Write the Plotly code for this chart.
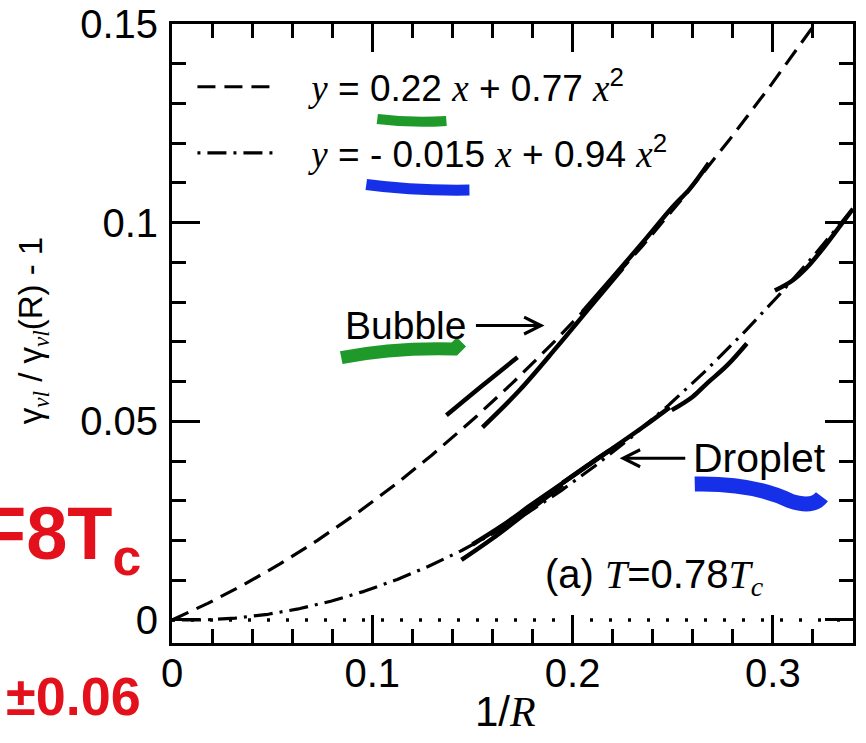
import numpy as np
import plotly.graph_objects as go

# Quadratic fits for the reduced surface tension
bubble_fit = (0.22, 0.77)      # y = a x + b x^2
droplet_fit = (-0.015, 0.94)

x_max = 0.34
y_min, y_max = -0.0058, 0.15

# Simulation data, bubbles (several overlapping runs)
bubble_run1_x = [0.137, 0.155, 0.1725]
bubble_run1_y = [0.0515, 0.0590, 0.0661]
bubble_run2_x = [0.155, 0.1735, 0.192, 0.21, 0.225]
bubble_run2_y = [0.0485, 0.0578, 0.0686, 0.0795, 0.0885]
bubble_run3_x = [0.205, 0.22, 0.235, 0.25, 0.2585, 0.268]
bubble_run3_y = [0.0775, 0.0862, 0.0950, 0.1040, 0.1085, 0.1150]

# Simulation data, droplets
droplet_run1_x = [0.1445, 0.16, 0.1785, 0.195]
droplet_run1_y = [0.0151, 0.0205, 0.0276, 0.0340]
droplet_run2_x = [0.150, 0.165, 0.18, 0.20, 0.2185]
droplet_run2_y = [0.0190, 0.0238, 0.0292, 0.0362, 0.0427]
droplet_run3_x = [0.195, 0.21, 0.2185, 0.235, 0.2485]
droplet_run3_y = [0.0345, 0.0398, 0.0427, 0.0485, 0.0535]
droplet_run4_x = [0.2495, 0.26, 0.267, 0.277, 0.287]
droplet_run4_y = [0.0528, 0.0562, 0.0595, 0.0640, 0.0696]
droplet_run5_x = [0.301, 0.31, 0.317, 0.325, 0.333, 0.34]
droplet_run5_y = [0.0829, 0.0855, 0.0887, 0.0935, 0.0988, 0.1035]

x_ticks = [0, 0.1, 0.2, 0.3]
x_tick_text = ["0", "0.1", "0.2", "0.3"]
y_ticks = [0, 0.05, 0.1, 0.15]
y_tick_text = ["0", "0.05", "0.1", "0.15"]

SANS = "Liberation Sans"
SERIF = "Liberation Serif"


def it(s):
    return f"<span style='font-family:{SERIF}'><i>{s}</i></span>"


fig = go.Figure()

gap = "&nbsp;&nbsp;&nbsp;"
xs = np.linspace(0, x_max, 400)
a, b = bubble_fit
fig.add_trace(go.Scatter(
    x=xs, y=a * xs + b * xs ** 2, mode="lines",
    line=dict(color="black", width=3.2, dash="18px,9px"),
    name=f"{gap}{it('y')} = 0.22 {it('x')} + 0.77 {it('x')}<sup>2</sup>",
    legendgroup="g1",
))
a, b = droplet_fit
fig.add_trace(go.Scatter(
    x=xs, y=a * xs + b * xs ** 2, mode="lines",
    line=dict(color="black", width=3.2, dash="3px,7px,19px,7px"),
    name=f"{gap}{it('y')} = - 0.015 {it('x')} + 0.94 {it('x')}<sup>2</sup>",
    legendgroup="g2",
))

# zero reference
fig.add_trace(go.Scatter(
    x=[0, x_max], y=[0, 0], mode="lines",
    line=dict(color="black", width=3.5, dash="3px,16px"),
    showlegend=False, hoverinfo="skip",
))

runs = [
    (bubble_run1_x, bubble_run1_y), (bubble_run2_x, bubble_run2_y),
    (bubble_run3_x, bubble_run3_y),
    (droplet_run1_x, droplet_run1_y), (droplet_run2_x, droplet_run2_y),
    (droplet_run3_x, droplet_run3_y), (droplet_run4_x, droplet_run4_y),
    (droplet_run5_x, droplet_run5_y),
]
for rx, ry in runs:
    fig.add_trace(go.Scatter(
        x=rx, y=ry, mode="lines", line=dict(color="black", width=4.5, shape="spline"),
        showlegend=False, hoverinfo="skip",
    ))

axis_common = dict(
    showgrid=False, zeroline=False, showline=True, linecolor="black", linewidth=3,
    mirror="allticks", ticks="inside", ticklen=28, tickwidth=3, tickcolor="black",
    tickfont=dict(family=SANS, size=40, color="black"), automargin=False,
)
fig.update_xaxes(
    range=[0, x_max], tickvals=x_ticks, ticktext=x_tick_text,
    minor=dict(dtick=0.02, tick0=0, ticks="inside", ticklen=14, tickwidth=3, tickcolor="black"),
    ticklabelstandoff=-7, **axis_common,
)
fig.update_yaxes(
    range=[y_min, y_max], tickvals=y_ticks, ticktext=y_tick_text,
    minor=dict(dtick=0.01, tick0=0, ticks="inside", ticklen=14, tickwidth=3, tickcolor="black"),
    ticklabelstandoff=3, **axis_common,
)

ann = []
# axis titles
ann.append(dict(xref="paper", yref="paper", x=0.49, y=-0.11, xanchor="center", yanchor="middle",
                showarrow=False, text=f"1/{it('R')}",
                font=dict(family=SANS, size=42, color="black")))
ann.append(dict(xref="paper", yref="paper", x=-0.203, y=0.505, xanchor="center", yanchor="middle",
                showarrow=False, textangle=-90,
                text=f"γ<sub>{it('vl')}</sub> / γ<sub>{it('vl')}</sub>(R) - 1",
                font=dict(family=SANS, size=33, color="black")))
# panel label
ann.append(dict(x=0.241, y=0.0108, xanchor="center", yanchor="middle", showarrow=False,
                text=f"(a) {it('T')}=0.78{it('T')}<sub>{it('c')}</sub>",
                font=dict(family=SANS, size=40, color="black")))
# curve labels with arrows
ann.append(dict(x=0.1165, y=0.0741, xanchor="center", yanchor="middle", showarrow=False,
                text="Bubble", font=dict(family=SANS, size=39, color="black")))
ann.append(dict(x=0.186, y=0.0741, ax=0.151, ay=0.0741, axref="x", ayref="y",
                showarrow=True, arrowhead=5, arrowsize=1.1, arrowwidth=3, arrowcolor="black", text=""))
ann.append(dict(x=0.2935, y=0.0408, xanchor="center", yanchor="middle", showarrow=False,
                text="Droplet", font=dict(family=SANS, size=41, color="black")))
ann.append(dict(x=0.2235, y=0.0407, ax=0.257, ay=0.0407, axref="x", ayref="y",
                showarrow=True, arrowhead=5, arrowsize=1.1, arrowwidth=3, arrowcolor="black", text=""))
# hand-written notes
RED = "#e3111c"
ann.append(dict(xref="paper", yref="paper", x=-0.042, y=0.168, xanchor="right", yanchor="middle",
                showarrow=False, text="F8T<sub>c</sub>",
                font=dict(family=SANS, size=74, color=RED, weight="bold")))
ann.append(dict(xref="paper", yref="paper", x=-0.247, y=-0.085, xanchor="left", yanchor="middle",
                showarrow=False, text="±0.06",
                font=dict(family=SANS, size=54, color=RED, weight="bold")))

GREEN = "#1f9a2a"
BLUE = "#1530e8"
shapes = [
    dict(type="path", xref="x", yref="y", path="M0.1025,0.1261 Q0.12,0.1250 0.137,0.1256",
         line=dict(color=GREEN, width=10)),
    dict(type="path", xref="x", yref="y",
         path="M0.0845,0.0660 Q0.11,0.0686 0.141,0.0682 L0.1445,0.0700",
         line=dict(color=GREEN, width=13)),
    dict(type="path", xref="x", yref="y", path="M0.097,0.1096 Q0.12,0.1080 0.1485,0.1082",
         line=dict(color=BLUE, width=11)),
    dict(type="path", xref="x", yref="y",
         path="M0.261,0.0342 Q0.29,0.0345 0.3085,0.0300 Q0.320,0.0280 0.3245,0.0310",
         line=dict(color=BLUE, width=15)),
]

fig.update_layout(
    width=866, height=743,
    margin=dict(l=172, r=13, t=24, b=100),
    paper_bgcolor="white", plot_bgcolor="white",
    showlegend=True,
    legend=dict(x=0.03, y=0.948, xanchor="left", yanchor="top", bgcolor="rgba(0,0,0,0)",
                font=dict(family=SANS, size=37, color="black"), itemwidth=78,
                tracegroupgap=15),
    annotations=ann, shapes=shapes,
)

fig.write_html("out.html")
